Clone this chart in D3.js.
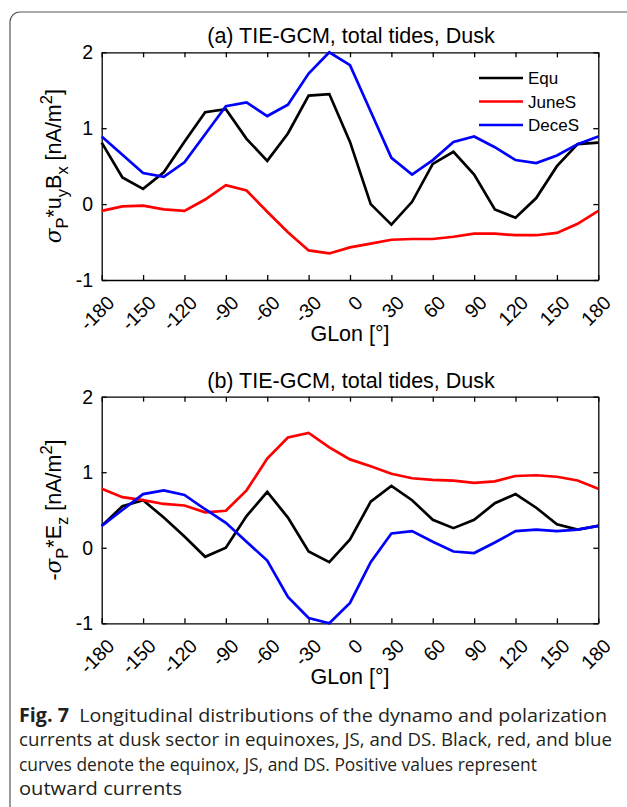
<!DOCTYPE html>
<html>
<head>
<meta charset="utf-8">
<script src="https://cdn.jsdelivr.net/npm/d3@7"></script>
<style>
  body { margin: 0; background: #fff; }
  svg { display: block; }
  .fig text { font-family: "Liberation Sans", Arial, Helvetica, sans-serif; }
  .fig text.cap { font-family: "Open Sans", "Noto Sans", sans-serif; }
  .fig text tspan.sym { font-family: "DejaVu Serif", serif; font-style: italic; }
</style>
</head>
<body>
<div class="fig"></div>
<script>
// longitudes, every 15 deg
glon = d3.range(-180, 181, 15)
xticks = [-180, -150, -120, -90, -60, -30, 0, 30, 60, 90, 120, 150, 180]
yticks = [-1, 0, 1, 2]
seriesNames = ["Equ", "JuneS", "DeceS"]

// (a) sigma_P * u_y * B_x
dynEqu   = [0.81, 0.35, 0.20, 0.42, 0.82, 1.21, 1.25, 0.86, 0.57, 0.93, 1.43, 1.45, 0.82, 0.00, -0.27, 0.03, 0.53, 0.69, 0.39, -0.07, -0.18, 0.08, 0.50, 0.79, 0.81]
dynJune  = [-0.09, -0.03, -0.02, -0.07, -0.09, 0.06, 0.25, 0.18, -0.10, -0.37, -0.61, -0.65, -0.57, -0.52, -0.47, -0.46, -0.46, -0.43, -0.39, -0.39, -0.41, -0.41, -0.38, -0.26, -0.09]
dynDece  = [0.89, 0.65, 0.41, 0.36, 0.55, 0.92, 1.29, 1.34, 1.16, 1.31, 1.72, 2.00, 1.83, 1.22, 0.61, 0.39, 0.58, 0.82, 0.89, 0.75, 0.58, 0.54, 0.64, 0.79, 0.89]

// (b) -sigma_P * E_z
polEqu   = [0.29, 0.55, 0.63, 0.40, 0.15, -0.12, 0.00, 0.42, 0.74, 0.40, -0.05, -0.19, 0.11, 0.61, 0.82, 0.63, 0.37, 0.26, 0.37, 0.59, 0.71, 0.53, 0.31, 0.24, 0.29]
polJune  = [0.78, 0.67, 0.63, 0.58, 0.56, 0.47, 0.49, 0.76, 1.18, 1.46, 1.52, 1.33, 1.17, 1.08, 0.98, 0.92, 0.90, 0.89, 0.86, 0.88, 0.95, 0.96, 0.94, 0.89, 0.78]
polDece  = [0.29, 0.50, 0.71, 0.76, 0.70, 0.51, 0.33, 0.08, -0.17, -0.65, -0.93, -1.00, -0.73, -0.19, 0.19, 0.22, 0.08, -0.05, -0.07, 0.07, 0.22, 0.24, 0.22, 0.24, 0.29]

colors = ["#000000", "#ff0000", "#0000ff"]

width = 627
height = 807
svg = d3.select(".fig").append("svg")
    .attr("width", width)
    .attr("height", height)

// figure frame (journal style)
svg.append("path")
    .attr("d", "M10,807 V22 a10,10 0 0 1 10,-10 H627")
    .attr("fill", "none")
    .attr("stroke", "#555")
    .attr("stroke-width", 1.2)

scaleX = d3.scaleLinear().domain([-180, 180]).range([101.7, 598.3])

function panel(top, bottom, title, ylabel, data, legend) {
  scaleY = d3.scaleLinear().domain([-1, 2]).range([bottom, top])
  g = svg.append("g")

  // box axes, inward ticks on all sides
  g.append("g")
      .attr("transform", `translate(0,${bottom})`)
      .call(d3.axisBottom(scaleX).tickValues(xticks).tickSize(-5).tickSizeOuter(0).tickFormat(""))
  g.append("g")
      .attr("transform", `translate(0,${top})`)
      .call(d3.axisTop(scaleX).tickValues(xticks).tickSize(-5).tickSizeOuter(0).tickFormat(""))
  g.append("g")
      .attr("transform", `translate(${scaleX.range()[0]},0)`)
      .call(d3.axisLeft(scaleY).tickValues(yticks).tickSize(-5).tickSizeOuter(0).tickFormat(""))
  g.append("g")
      .attr("transform", `translate(${scaleX.range()[1]},0)`)
      .call(d3.axisRight(scaleY).tickValues(yticks).tickSize(-5).tickSizeOuter(0).tickFormat(""))
  g.selectAll(".domain, .tick line").attr("stroke", "#000").attr("stroke-width", 1.3)

  // y tick labels
  g.selectAll(".ylab")
      .data(yticks)
      .join("text")
      .attr("x", 93)
      .attr("y", d => scaleY(d))
      .attr("dy", "0.36em")
      .attr("text-anchor", "end")
      .style("font-size", "19.5px")
      .text(d => d)

  // rotated x tick labels
  g.selectAll(".xlab")
      .data(xticks)
      .join("text")
      .attr("transform", d => `translate(${scaleX(d) + 9},${bottom + 19}) rotate(-45)`)
      .attr("text-anchor", "end")
      .attr("dy", "0.36em")
      .style("font-size", "19.5px")
      .text(d => d)

  g.append("text")
      .attr("x", 350)
      .attr("y", bottom + 61)
      .attr("text-anchor", "middle")
      .style("font-size", "21.5px")
      .text("GLon [°]")

  g.append("text")
      .attr("x", 351)
      .attr("y", top - 9)
      .attr("text-anchor", "middle")
      .style("font-size", "21.5px")
      .text(title)

  // y label with sub/superscripts
  yl = g.append("text")
      .attr("transform", `translate(61,${(top + bottom) / 2}) rotate(-90)`)
      .attr("text-anchor", "middle")
      .style("font-size", "21.5px")
  ylabel.forEach(p => {
    t = yl.append("tspan").text(p[0])
    if (p[1] == "sub") t.attr("dy", 7).style("font-size", "16.5px")
    if (p[1] == "sup") t.attr("dy", -9).style("font-size", "16.5px")
    if (p[1] == "back") t.attr("dy", -7)
    if (p[1] == "backsup") t.attr("dy", 9)
    if (p[1] == "sym") t.attr("class", "sym")
  })

  line = d3.line().x((d, i) => scaleX(glon[i])).y(d => scaleY(d))
  g.selectAll(".series")
      .data(data)
      .join("path")
      .attr("fill", "none")
      .attr("stroke", (d, i) => colors[i])
      .attr("stroke-width", 2.7)
      .attr("d", d => line(d))

  if (legend) {
    lg = g.append("g")
    seriesNames.forEach((s, i) => {
      yy = 78 + i * 23.5
      lg.append("line")
          .attr("x1", 479).attr("x2", 523)
          .attr("y1", yy).attr("y2", yy)
          .attr("stroke", colors[i]).attr("stroke-width", 2.7)
      lg.append("text")
          .attr("x", 528).attr("y", yy)
          .attr("dy", "0.36em")
          .style("font-size", "17px")
          .text(s)
    })
  }
}

panel(52.3, 280, "(a) TIE-GCM, total tides, Dusk",
  [["σ", "sym"], ["P", "sub"], ["*u", "back"], ["y", "sub"], ["B", "back"], ["x", "sub"], [" [nA/m", "back"], ["2", "sup"], ["]", "backsup"]],
  [dynEqu, dynJune, dynDece], true)

panel(396.7, 623.3, "(b) TIE-GCM, total tides, Dusk",
  [["-"], ["σ", "sym"], ["P", "sub"], ["*E", "back"], ["z", "sub"], [" [nA/m", "back"], ["2", "sup"], ["]", "backsup"]],
  [polEqu, polJune, polDece], false)

// caption
caption = [
  [["Fig. 7", true], ["  Longitudinal distributions of the dynamo and polarization", false]],
  [["currents at dusk sector in equinoxes, JS, and DS. Black, red, and blue", false]],
  [["curves denote the equinox, JS, and DS. Positive values represent", false]],
  [["outward currents", false]]
]
captionEnds = [607, 612, 537, 182]
caption.forEach((ln, i) => {
  t = svg.append("text")
      .attr("class", "cap")
      .attr("x", 19)
      .attr("y", 722 + i * 24.3)
      .attr("textLength", captionEnds[i] - 19)
      .attr("lengthAdjust", "spacingAndGlyphs")
      .style("font-size", "19px")
      .attr("fill", "#231f20")
  ln.forEach(p => {
    t.append("tspan").text(p[0]).style("font-weight", p[1] ? "bold" : "normal")
      .attr("xml:space", "preserve")
  })
})
</script>
</body>
</html>
